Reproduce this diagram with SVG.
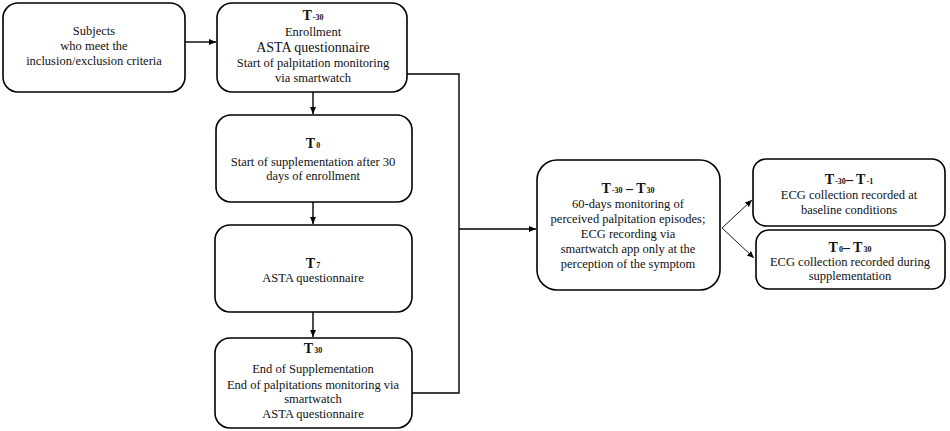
<svg xmlns="http://www.w3.org/2000/svg" width="950" height="431" viewBox="0 0 950 431">
<style>
.box{fill:#fff;stroke:#000;stroke-width:1.6}
text{font-family:'Liberation Serif','DejaVu Serif',serif;font-size:12.5px;fill:#111;text-anchor:middle}
.b{font-weight:bold;font-size:14px}
.s{font-size:8px;font-weight:bold}
.ln{fill:none;stroke:#000;stroke-width:1.4}
.thin{fill:none;stroke:#000;stroke-width:0.9}
</style>
<defs>
<marker id="ah" markerWidth="8" markerHeight="8" refX="7" refY="4" orient="auto" markerUnits="userSpaceOnUse">
<path d="M0,1 L7,4 L0,7 Z" fill="#000"/>
</marker>
</defs>
<rect width="950" height="431" fill="#fff"/>
<g id="connectors">
<line class="ln" x1="185" y1="42" x2="216" y2="42" marker-end="url(#ah)"/>
<line class="ln" x1="313" y1="92" x2="313" y2="114" marker-end="url(#ah)"/>
<line class="ln" x1="313" y1="202" x2="313" y2="224" marker-end="url(#ah)"/>
<line class="ln" x1="313" y1="312" x2="313" y2="337" marker-end="url(#ah)"/>
<polyline class="ln" points="407,74 459,74 459,393 412,393"/>
<line class="ln" x1="459" y1="229" x2="536" y2="229" marker-end="url(#ah)"/>
<line class="thin" x1="722" y1="228" x2="752" y2="200" marker-end="url(#ah)"/>
<line class="thin" x1="722" y1="228" x2="754" y2="258" marker-end="url(#ah)"/>
</g>
<g id="n1">
<rect class="box" x="3" y="3" width="182" height="89" rx="15"/>
<text x="94" y="35">Subjects</text>
<text x="94" y="50">who meet  the</text>
<text x="94" y="65">inclusion/exclusion  criteria</text>
</g>
<g id="n2">
<rect class="box" x="217" y="3" width="190" height="89" rx="15"/>
<text class="b" x="313" y="20">T<tspan class="s" dx="1">-30</tspan></text>
<text x="313" y="36">Enrollment</text>
<text x="313" y="52" style="font-size:14px">ASTA questionnaire</text>
<text x="313" y="67">Start of palpitation monitoring</text>
<text x="313" y="82">via smartwatch</text>
</g>
<g id="n3">
<rect class="box" x="216" y="115" width="196" height="87" rx="15"/>
<text class="b" x="313" y="148">T<tspan class="s" dx="1">0</tspan></text>
<text x="313" y="166">Start of  supplementation  after 30</text>
<text x="313" y="180">days of enrollment</text>
</g>
<g id="n4">
<rect class="box" x="215" y="225" width="197" height="87" rx="15"/>
<text class="b" x="313" y="268">T<tspan class="s" dx="1">7</tspan></text>
<text x="313" y="282">ASTA questionnaire</text>
</g>
<g id="n5">
<rect class="box" x="215" y="338" width="197" height="90" rx="15"/>
<text class="b" x="313" y="353">T<tspan class="s" dx="1">30</tspan></text>
<text x="313" y="373">End of Supplementation</text>
<text x="313" y="389">End of palpitations monitoring  via</text>
<text x="313" y="403">smartwatch</text>
<text x="313" y="418">ASTA questionnaire</text>
</g>
<g id="n6">
<rect class="box" x="537" y="160" width="183" height="130" rx="20"/>
<text class="b" x="628" y="193">T<tspan class="s" dx="1">-30</tspan>  – T<tspan class="s" dx="1">30</tspan></text>
<text x="628" y="208">60-days monitoring  of</text>
<text x="628" y="223">perceived palpitation episodes;</text>
<text x="628" y="238">ECG recording via</text>
<text x="628" y="253">smartwatch app only  at the</text>
<text x="628" y="268">perception of the symptom</text>
</g>
<g id="n7">
<rect class="box" x="753" y="159" width="192" height="67" rx="13"/>
<text class="b" x="849" y="184">T<tspan class="s" dx="1">-30</tspan>– T<tspan class="s" dx="1">-1</tspan></text>
<text x="849" y="199">ECG collection recorded at</text>
<text x="849" y="214">baseline conditions</text>
</g>
<g id="n8">
<rect class="box" x="756" y="230" width="189" height="59" rx="13"/>
<text class="b" x="850" y="252">T<tspan class="s" dx="1">0</tspan>– T<tspan class="s" dx="1">30</tspan></text>
<text x="850" y="266">ECG collection recorded during</text>
<text x="850" y="280">supplementation</text>
</g>
</svg>
